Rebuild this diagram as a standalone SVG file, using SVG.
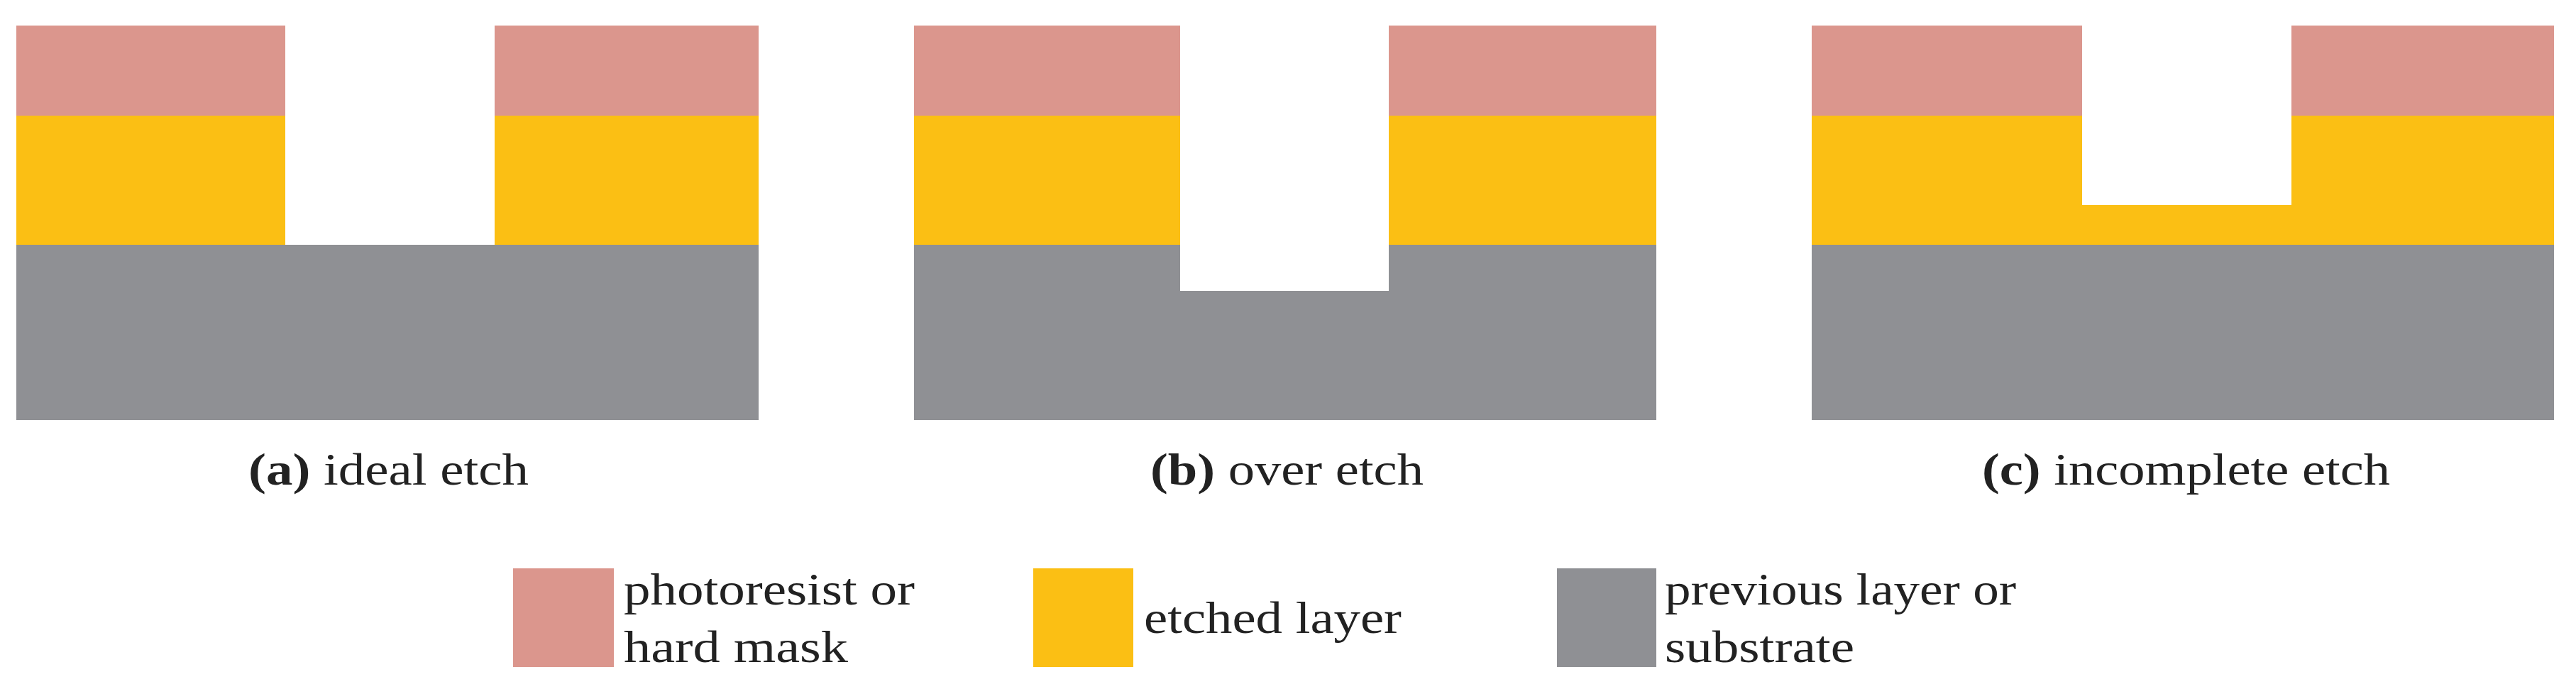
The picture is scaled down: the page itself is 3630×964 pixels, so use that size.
<svg xmlns="http://www.w3.org/2000/svg" width="3630" height="964" viewBox="0 0 3630 964">
<style>
.pr{fill:#DB968D}.et{fill:#FBBF14}.sb{fill:#8F9094}
text{font-family:"Liberation Serif","DejaVu Serif",serif;font-size:64px;fill:#222}
.b{font-weight:bold}
</style>
<rect width="3630" height="964" fill="#fff"/>
<g id="panel-a">
<rect class="sb" x="23" y="345" width="1046" height="247"/>
<rect class="et" x="23" y="163" width="379" height="182"/>
<rect class="et" x="697" y="163" width="372" height="182"/>
<rect class="pr" x="23" y="36" width="379" height="127"/>
<rect class="pr" x="697" y="36" width="372" height="127"/>
<text x="350" y="683" textLength="395" lengthAdjust="spacingAndGlyphs"><tspan class="b">(a)</tspan> ideal etch</text>
</g>
<g id="panel-b">
<rect class="sb" x="1288" y="345" width="1046" height="247"/>
<rect class="et" x="1288" y="163" width="375" height="182"/>
<rect class="et" x="1957" y="163" width="377" height="182"/>
<rect class="pr" x="1288" y="36" width="375" height="127"/>
<rect class="pr" x="1957" y="36" width="377" height="127"/>
<rect fill="#fff" x="1663" y="345" width="294" height="65"/>
<text x="1621" y="683" textLength="385" lengthAdjust="spacingAndGlyphs"><tspan class="b">(b)</tspan> over etch</text>
</g>
<g id="panel-c">
<rect class="sb" x="2553" y="345" width="1046" height="247"/>
<rect class="et" x="2553" y="163" width="1046" height="182"/>
<rect fill="#fff" x="2934" y="163" width="295" height="126"/>
<rect class="pr" x="2553" y="36" width="381" height="127"/>
<rect class="pr" x="3229" y="36" width="370" height="127"/>
<text x="2793" y="683" textLength="575" lengthAdjust="spacingAndGlyphs"><tspan class="b">(c)</tspan> incomplete etch</text>
</g>
<g id="legend-photoresist">
<rect class="pr" x="723" y="801" width="142" height="139"/>
<text x="879" y="852" textLength="410" lengthAdjust="spacingAndGlyphs">photoresist or</text>
<text x="879" y="933" textLength="316" lengthAdjust="spacingAndGlyphs">hard mask</text>
</g>
<g id="legend-etched">
<rect class="et" x="1456" y="801" width="141" height="139"/>
<text x="1612" y="892" textLength="363" lengthAdjust="spacingAndGlyphs">etched layer</text>
</g>
<g id="legend-substrate">
<rect class="sb" x="2194" y="801" width="140" height="139"/>
<text x="2346" y="852" textLength="495" lengthAdjust="spacingAndGlyphs">previous layer or</text>
<text x="2346" y="933" textLength="267" lengthAdjust="spacingAndGlyphs">substrate</text>
</g>
</svg>
